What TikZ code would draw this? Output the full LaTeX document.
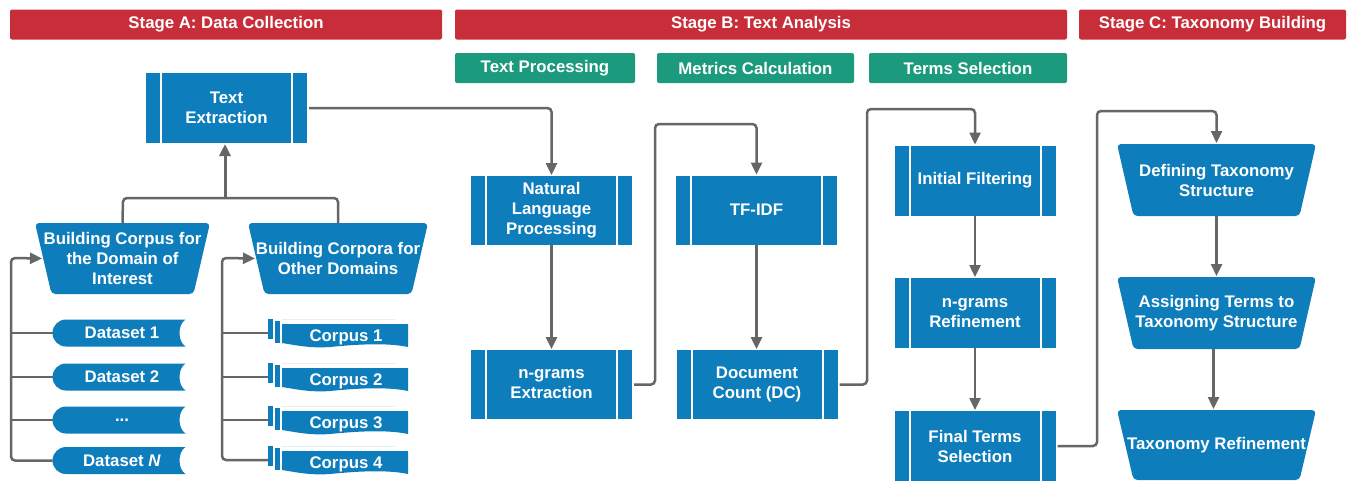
\documentclass[tikz,border=0pt]{standalone}
\usepackage{fontspec}
\setmainfont{Liberation Sans}
\usetikzlibrary{arrows.meta}
\definecolor{hred}{HTML}{C82E3A}
\definecolor{hgreen}{HTML}{1C9A7E}
\definecolor{bblue}{HTML}{0E7DBB}
\definecolor{lgray}{HTML}{666666}
\newcommand\pb{path picture bounding box}
\newcommand\diafont{\fontsize{16.8}{20}\selectfont\bfseries}
\newcommand\low[1]{\raisebox{-4pt}[12pt][3.5pt]{#1}}
\begin{document}
\begin{tikzpicture}[x=1pt,y=-1pt,
 every node/.style={inner sep=0pt, outer sep=0pt, text=white, font=\diafont, align=center},
 hdr/.style={rectangle, fill=hred, rounded corners=2pt, minimum height=30pt},
 sub/.style={rectangle, fill=hgreen, rounded corners=2pt, minimum height=30pt},
 proc/.style={rectangle, fill=bblue, minimum width=161pt, minimum height=70pt,
   path picture={\draw[white,line width=2pt] ([xshift=15pt]\pb.north west) -- ([xshift=15pt]\pb.south west)
     ([xshift=-15pt]\pb.north east) -- ([xshift=-15pt]\pb.south east);}},
 trap/.style={rectangle, minimum height=71pt,
   path picture={\fill[bblue, rounded corners=4pt] (\pb.north west) -- (\pb.north east) -- ([xshift=-16.5pt]\pb.south east) -- ([xshift=16.5pt]\pb.south west) -- cycle;}},
 ds/.style={rectangle, minimum width=133pt, minimum height=27pt,
   path picture={\fill[bblue] ([xshift=13.5pt]\pb.north west) -- (\pb.north east)
     .. controls ([xshift=-8pt,yshift=-5pt]\pb.north east) and ([xshift=-8pt,yshift=5pt]\pb.south east) .. (\pb.south east)
     -- ([xshift=13.5pt]\pb.south west) arc[start angle=270,end angle=90,radius=13.5pt] -- cycle;}},
 cps/.style={rectangle, minimum width=140pt, minimum height=28pt,
   path picture={
     \fill[bblue] (\pb.north west) rectangle ([xshift=4.5pt,yshift=-20pt]\pb.north west);
     \fill[bblue] ([xshift=7pt,yshift=-2pt]\pb.north west) rectangle ([xshift=11.5pt,yshift=-24pt]\pb.north west);
     \draw[bblue!12,line width=1pt] ([xshift=14pt,yshift=-0.5pt]\pb.north west) -- ([xshift=127pt,yshift=-0.5pt]\pb.north west);
     \fill[bblue] ([xshift=14pt,yshift=-5pt]\pb.north west) -- ([yshift=-5pt]\pb.north east) -- (\pb.south east)
       .. controls ([xshift=-23pt,yshift=5pt]\pb.south east) and ([xshift=-58pt,yshift=2pt]\pb.south east) .. ([xshift=-78pt]\pb.south east)
       .. controls ([xshift=-98pt,yshift=-1.5pt]\pb.south east) and ([xshift=-113pt,yshift=2pt]\pb.south east) .. ([xshift=14pt,yshift=4pt]\pb.south west) -- cycle;}},
 line/.style={draw=lgray, line width=2.5pt, rounded corners=4pt},
 conn/.style={line, -{Triangle[length=12pt,width=11pt]}, shorten >=1pt}
]
\useasboundingbox (0,0) rectangle (1348,480);
\fill[white] (0,0) rectangle (1348,480);

% headers
\node[hdr, minimum width=432pt] (sA) at (226,24.5) {Stage A: Data Collection};
\node[hdr, minimum width=612pt] (sB) at (761,24.5) {Stage B: Text Analysis};
\node[hdr, minimum width=267pt] (sC) at (1212.5,24.5) {Stage C: Taxonomy Building};
\node[sub, minimum width=180pt] (g1) at (545,68) {Text Processing};
\node[sub, minimum width=197pt] (g2) at (755.5,68) {Metrics Calculation};
\node[sub, minimum width=198pt] (g3) at (968,68) {Terms Selection};

% stage A
\node[proc] (te) at (226.5,108) {Text\\Extraction};
\node[trap, minimum width=175pt] (bc) at (122.5,258.5) {Building Corpus for\\the Domain of\\Interest};
\node[trap, minimum width=180pt] (bo) at (338,258.5) {Building Corpora for\\Other Domains};

\node[ds] (d1) at (119,333) {\hspace*{6pt}Dataset 1};
\node[ds] (d2) at (119,377) {\hspace*{6pt}Dataset 2};
\node[ds] (d3) at (119,420) {\hspace*{6pt}...};
\node[ds] (dN) at (119,460.5) {\hspace*{6pt}Dataset \textit{N}};

\node[cps] (c1) at (338,333) {\hspace*{16pt}\low{Corpus 1}};
\node[cps] (c2) at (338,377) {\hspace*{16pt}\low{Corpus 2}};
\node[cps] (c3) at (338,420) {\hspace*{16pt}\low{Corpus 3}};
\node[cps] (c4) at (338,460) {\hspace*{16pt}\low{Corpus 4}};

% stage B
\node[proc, minimum height=69pt] (nlp) at (551.5,210.5) {Natural\\Language\\Processing};
\node[proc, minimum height=69pt] (nge) at (551.5,384.5) {n-grams\\Extraction};
\node[proc, minimum height=69pt] (tfidf) at (756.5,210) {TF-IDF};
\node[proc, minimum height=69pt] (dc) at (757,384.5) {Document\\Count (DC)};
\node[proc] (inf) at (975,180.5) {Initial Filtering};
\node[proc] (ngr) at (975,313) {n-grams\\Refinement};
\node[proc] (fts) at (975,446) {Final Terms\\Selection};

% stage C
\node[trap, minimum width=199pt, minimum height=72pt] (dts) at (1216.5,180) {Defining Taxonomy\\Structure};
\node[trap, minimum width=199pt, minimum height=72pt] (ats) at (1216.5,313) {Assigning Terms to\\Taxonomy Structure};
\node[trap, minimum width=199pt, minimum height=70pt] (tr) at (1216.5,445) {Taxonomy Refinement};

% connectors stage A
\coordinate (ja) at (123,198);
\coordinate (jb) at (338,198);
\coordinate (jm) at (225,198);
\draw[line] (bc.north) -- (ja) -- (jb) -- (bo.north);
\draw[conn, line width=3pt] (jm) -- (jm |- te.south);

\coordinate (busd) at (11,258);
\draw[conn] (dN.west) -| (busd) -- ([xshift=8pt]bc.west);
\draw[line] (d1.west) -- (d1.west -| busd);
\draw[line] (d2.west) -- (d2.west -| busd);
\draw[line] (d3.west) -- (d3.west -| busd);

\coordinate (busc) at (222,258);
\draw[conn] (c4.west) -| (busc) -- ([xshift=8pt]bo.west);
\draw[line] (c1.west) -- (c1.west -| busc);
\draw[line] (c2.west) -- (c2.west -| busc);
\draw[line] (c3.west) -- (c3.west -| busc);

% connectors stage B
\coordinate (k1) at (655,124);
\coordinate (k2) at (867,109);
\coordinate (k3) at (1097,111);
\draw[conn] ([xshift=2pt]te.east) -| (nlp.north);
\draw[conn] (nlp.south) -- (nge.north);
\draw[conn] ([xshift=2pt]nge.east) -| (k1) -| (tfidf.north);
\draw[conn] (tfidf.south) -- (tfidf.south |- dc.north);
\draw[conn] ([xshift=2pt]dc.east) -| (k2) -| (inf.north);
\draw[conn] (inf.south) -- (ngr.north);
\draw[conn] (ngr.south) -- (fts.north);
\draw[conn] ([xshift=2pt]fts.east) -| (k3) -| (dts.north);
\draw[conn] (dts.south) -- (ats.north);
\draw[conn] ([xshift=-3pt]ats.south) -- ([xshift=-3pt]tr.north);
\end{tikzpicture}
\end{document}
